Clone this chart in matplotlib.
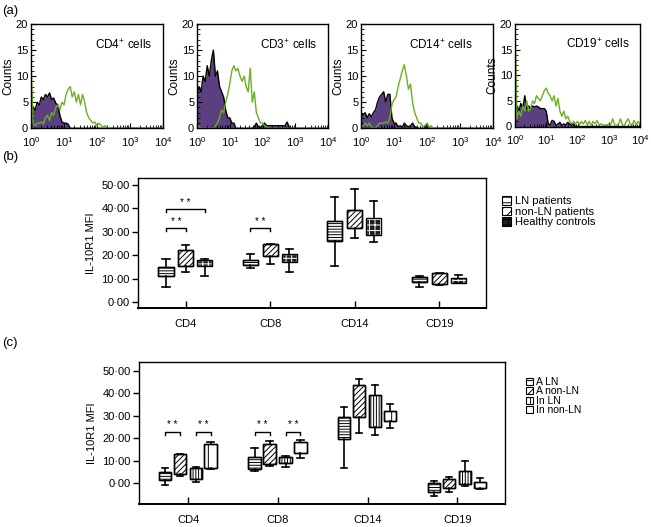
import numpy as np
import matplotlib.pyplot as plt
from matplotlib.patches import Patch, PathPatch
from matplotlib.ticker import MultipleLocator, LogLocator, NullFormatter, FuncFormatter

plt.rcParams['font.family'] = ['Liberation Sans', 'DejaVu Sans']
plt.rcParams['mathtext.fontset'] = 'custom'
plt.rcParams['mathtext.rm'] = 'Liberation Sans'
plt.rcParams['mathtext.it'] = 'Liberation Sans:italic'
plt.rcParams['hatch.linewidth'] = 0.7

# ---------------- data ----------------
# flow histograms: counts per channel, 16 channels per decade from 10^0
hist_exp = np.arange(65) / 16
hist_titles = ["CD4$^{+}$ cells", "CD3$^{+}$ cells", "CD14$^{+}$ cells", "CD19$^{+}$ cells"]
cd4_isotype = [5.0, 4.0, 3.5, 5.0, 4.5, 6.0, 5.5, 6.5, 6.0, 6.8, 5.5, 5.8, 4.8, 4.5, 2.5, 1.2,
               1.0, 1.0, 0.8, 0.0]
cd4_il10r1 = [13.0, 1.0, 0.5, 1.0, 1.0, 1.2, 0.8, 2.0, 2.5, 1.5, 3.0, 2.5, 4.0, 4.5, 3.5, 5.0,
              4.5, 6.5, 7.5, 8.0, 6.0, 7.0, 5.0, 6.5, 4.5, 6.5, 5.0, 3.0, 2.0, 1.5, 1.0, 1.2,
              0.5, 1.0, 0.5, 0.3, 0.5, 0.0]
cd3_isotype = [6.5, 8.0, 7.0, 10.0, 9.0, 12.0, 10.0, 13.0, 15.0, 10.0, 11.0, 8.0, 7.0, 6.0, 3.5, 2.0,
               2.0, 1.0, 1.0, 0.0, 0.0, 0.0, 0.0, 0.0, 0.0, 0.0, 0.0, 0.0, 0.3, 1.0, 0.3, 0.2,
               0.5, 1.0, 0.5, 0.5, 0.5, 0.5, 0.5, 0.5, 0.5, 0.5, 0.5, 0.5, 1.2, 0.3, 0.0]
cd3_il10r1 = [0.5, 0.3, 0.0, 0.0, 0.0, 0.0, 0.0, 0.0, 0.0, 0.5, 1.0, 2.0, 3.5, 3.0, 5.0, 6.5,
              8.5, 11.0, 12.0, 11.0, 11.5, 10.0, 9.0, 10.0, 8.0, 7.0, 11.5, 5.0, 7.0, 3.0, 2.0, 1.0,
              1.0, 0.5, 0.3, 0.0]
cd14_isotype = [3.0, 2.5, 3.0, 2.0, 2.8, 2.2, 3.0, 3.5, 5.0, 6.0, 6.5, 7.0, 5.0, 6.5, 6.5, 2.0,
                1.0, 1.0, 0.3, 0.5, 0.2, 1.0, 0.5, 0.3, 0.5, 1.0, 0.3, 0.2, 0.0, 0.0, 0.0, 0.0,
                0.8, 0.0]
cd14_il10r1 = [0.0, 0.5, 1.0, 0.5, 1.0, 0.3, 0.0, 0.0, 0.5, 1.0, 1.0, 1.0, 1.2, 1.0, 2.0, 4.5,
               5.5, 6.0, 8.0, 9.5, 11.0, 12.2, 10.0, 7.5, 8.5, 5.0, 3.0, 2.0, 1.0, 1.0, 0.3, 0.5,
               1.0, 0.2, 0.5, 0.0]
cd19_isotype = [3.0, 4.0, 3.0, 4.5, 3.5, 6.0, 3.5, 4.0, 3.5, 4.0, 3.8, 4.0, 3.8, 3.5, 3.5, 3.5,
                3.0, 0.5, 0.3, 1.2, 1.0, 0.2, 0.5, 0.8, 0.2, 0.5, 0.3, 0.8, 0.5, 0.3, 0.5, 0.0]
cd19_il10r1 = [20.0, 1.5, 3.0, 2.0, 4.0, 3.0, 5.0, 3.0, 3.5, 5.0, 4.5, 6.0, 5.5, 5.0, 6.0, 7.0,
               7.5, 6.5, 6.0, 5.0, 6.0, 4.0, 5.5, 3.0, 2.0, 3.0, 1.5, 2.0, 1.0, 0.5, 1.0, 0.5,
               1.0, 0.3, 1.0, 0.5, 1.2, 0.3, 1.0, 0.2, 1.0, 0.5, 1.2, 0.3, 0.5, 0.2, 0.3, 0.2,
               0.5, 0.3, 1.5, 0.3, 0.2, 0.5, 1.5, 0.3, 0.2, 1.0, 1.5, 0.5, 0.3, 1.2, 0.3, 1.0, 0.5]
isotype_counts = [cd4_isotype, cd3_isotype, cd14_isotype, cd19_isotype]
il10r1_counts = [cd4_il10r1, cd3_il10r1, cd14_il10r1, cd19_il10r1]

cells = ["CD4", "CD8", "CD14", "CD19"]

# panel (b): LN patients, non-LN patients, healthy controls (rows) x cells (cols)
b_groups = ["LN patients", "non-LN patients", "Healthy controls"]
b_whislo = [[6.4, 14.4, 15.4, 6.5], [12.8, 16.2, 27.2, 7.2], [11.2, 12.8, 25.5, 8.0]]
b_q1 = [[11.1, 15.7, 26.1, 8.7], [15.3, 19.8, 31.5, 7.6], [15.3, 17.0, 28.6, 8.0]]
b_med = [[13.0, 16.8, 30.0, 9.8], [18.5, 22.0, 35.5, 10.0], [16.5, 18.7, 32.0, 9.0]]
b_q3 = [[14.8, 17.8, 34.6, 10.8], [22.1, 24.8, 39.2, 12.3], [17.8, 20.4, 35.8, 10.3]]
b_whishi = [[18.2, 20.6, 44.7, 11.1], [24.4, 24.9, 48.4, 12.5], [18.2, 22.5, 43.0, 11.5]]
# significance: (cell, group a, group b, bracket height)
b_sig = [(0, 0, 1, 31.5), (0, 0, 2, 39.7), (1, 0, 1, 31.5)]

# panel (c): active / inactive LN and non-LN
c_groups = ["A LN", "A non-LN", "In LN", "In non-LN"]
c_whislo = [[-0.9, 5.3, 6.8, -5.8], [3.1, 7.6, 22.1, -3.9], [0.6, 7.0, 21.4, -1.3], [6.1, 11.0, 24.3, -2.8]]
c_q1 = [[1.3, 6.2, 19.4, -4.2], [4.2, 8.3, 29.5, -2.4], [1.6, 8.8, 25.1, -0.4], [6.8, 13.2, 27.6, -2.4]]
c_med = [[3.1, 8.5, 24.0, -2.0], [8.0, 12.5, 36.0, 0.0], [4.0, 10.0, 33.0, 2.0], [12.0, 15.5, 30.0, -1.0]]
c_q3 = [[4.8, 11.4, 29.2, 0.15], [12.9, 17.2, 43.5, 1.8], [6.5, 11.7, 39.2, 5.3], [17.5, 18.3, 32.1, 0.6]]
c_whishi = [[6.5, 15.4, 34.0, 0.9], [12.9, 18.7, 46.2, 2.8], [7.0, 12.2, 43.5, 9.8], [18.3, 19.0, 35.0, 2.1]]
c_sig = [(0, 0, 1, 22.8), (0, 2, 3, 22.8), (1, 0, 1, 22.8), (1, 2, 3, 22.8)]

# ---------------- layout ----------------
W, H = 651, 527
fig = plt.figure(figsize=(W / 100, H / 100), dpi=100)


def px_rect(l, t, r, b):
    return [l / W, 1 - b / H, (r - l) / W, (b - t) / H]


PURPLE = "#5b3f80"
GREEN = "#6ab023"

hist_rects = [(31, 24, 163, 128.3), (197, 24, 328, 128.3), (361, 24, 493, 128.3), (515, 24, 640, 126.5)]
title_x = [0.92, 0.92, 0.85, 0.92]
x_hist = 10 ** hist_exp
for i in range(4):
    ax = fig.add_axes(px_rect(*hist_rects[i]))
    iso = np.pad(isotype_counts[i], (0, len(x_hist) - len(isotype_counts[i])))
    il = np.pad(il10r1_counts[i], (0, len(x_hist) - len(il10r1_counts[i])))
    ax.fill_between(x_hist, iso, color=PURPLE, linewidth=0)
    ax.plot(x_hist, iso, color="black", linewidth=1.0)
    ax.plot(x_hist, il, color=GREEN, linewidth=1.0)
    ax.set_xscale("log")
    ax.set_xlim(1, 1e4)
    ax.set_ylim(0, 20)
    ax.yaxis.set_major_locator(MultipleLocator(5))
    ax.yaxis.set_minor_locator(MultipleLocator(1))
    ax.xaxis.set_major_locator(LogLocator(base=10, numticks=10))
    ax.xaxis.set_minor_locator(LogLocator(base=10, subs=np.arange(2, 10), numticks=10))
    ax.xaxis.set_minor_formatter(NullFormatter())
    ax.tick_params(which="both", direction="in", labelsize=8, top=False, right=False)
    ax.tick_params(which="major", length=3.5, width=0.8)
    ax.tick_params(which="minor", length=2, width=0.6)
    ax.tick_params(axis="x", pad=5)
    ax.tick_params(axis="y", pad=2)
    ax.set_ylabel("Counts", fontsize=8.5, labelpad=1)
    ax.text(title_x[i], 0.80, hist_titles[i], transform=ax.transAxes, ha="right", va="center",
            fontsize=8.5)
    for s in ax.spines.values():
        s.set_linewidth(1.0)

ytick_fmt = FuncFormatter(lambda v, p: f"{v:.0f}\u00b700")

b_styles = [dict(face="white", edge="black", hatch="------"),
            dict(face="white", edge="black", hatch="//////"),
            dict(face="#1e1e1e", edge="white", hatch="+++")]
c_styles = [dict(face="white", edge="black", hatch="------"),
            dict(face="white", edge="black", hatch="//////"),
            dict(face="white", edge="black", hatch="||||||"),
            dict(face="white", edge="black", hatch="|")]


def box_panel(ax, whislo, q1, med, q3, whishi, offsets, width, capw, styles):
    for g in range(len(offsets)):
        stats = [dict(whislo=whislo[g][k], q1=q1[g][k], med=med[g][k], q3=q3[g][k],
                      whishi=whishi[g][k]) for k in range(len(cells))]
        pos = [k + offsets[g] for k in range(len(cells))]
        st = styles[g]
        art = ax.bxp(stats, positions=pos, widths=width, capwidths=capw, patch_artist=True,
                     showfliers=False, manage_ticks=False,
                     boxprops=dict(facecolor=st["face"], edgecolor=st["edge"], hatch=st["hatch"],
                                   linewidth=1.0),
                     whiskerprops=dict(color="black", linewidth=1.2),
                     capprops=dict(color="black", linewidth=1.2),
                     medianprops=dict(linewidth=0))
        for b in art["boxes"]:
            ax.add_patch(PathPatch(b.get_path(), facecolor="none", edgecolor="black",
                                   linewidth=1.0, zorder=b.get_zorder() + 0.1))


def sig_brackets(ax, sig, offsets, drop):
    for k, a, b, h in sig:
        xa, xb = k + offsets[a], k + offsets[b]
        ax.plot([xa, xa, xb, xb], [h - drop, h, h, h - drop], color="black", linewidth=1.0)
        ax.text((xa + xb) / 2, h + 0.6, "* *", ha="center", va="bottom", fontsize=7)


def style_axes(ax, xlim, ylim):
    ax.set_xlim(*xlim)
    ax.set_ylim(*ylim)
    ax.set_xticks(range(len(cells)))
    ax.set_xticklabels(cells)
    ax.set_yticks(range(0, 51, 10))
    ax.yaxis.set_major_formatter(ytick_fmt)
    ax.tick_params(axis="x", direction="in", length=5, width=1.0, pad=8, labelsize=8)
    ax.tick_params(axis="y", direction="out", length=4, width=1.0, pad=2, labelsize=8)
    ax.set_ylabel("IL-10R1 MFI", fontsize=8, labelpad=4)
    for s in ax.spines.values():
        s.set_linewidth(1.0)
    ax.spines["bottom"].set_linewidth(1.4)


# panel (b)
ax_b = fig.add_axes(px_rect(138, 178, 486, 308))
b_off = [-0.236, 0.0, 0.225]
box_panel(ax_b, b_whislo, b_q1, b_med, b_q3, b_whishi, b_off, 0.18, 0.085, b_styles)
sig_brackets(ax_b, b_sig, b_off, 1.3)
style_axes(ax_b, (-0.567, 3.555), (-2.6, 53.0))
b_handles = [Patch(facecolor=s["face"], edgecolor="black", hatch=s["hatch"][:3], linewidth=0.8)
             for s in b_styles]
ax_b.legend(b_handles, b_groups, loc="upper left", bbox_to_anchor=(502 / W, 1 - 196 / H),
            bbox_transform=fig.transFigure, frameon=False, fontsize=8, handlelength=0.8,
            handleheight=0.8, handletextpad=0.4, labelspacing=0.05, borderpad=0, borderaxespad=0)

# panel (c)
ax_c = fig.add_axes(px_rect(139, 362, 505, 504))
c_off = [-0.26, -0.093, 0.085, 0.25]
box_panel(ax_c, c_whislo, c_q1, c_med, c_q3, c_whishi, c_off, 0.137, 0.07, c_styles)
sig_brackets(ax_c, c_sig, c_off, 1.2)
style_axes(ax_c, (-0.548, 3.53), (-9.35, 53.9))
c_handles = [Patch(facecolor=s["face"], edgecolor="black", hatch=s["hatch"][:3], linewidth=0.8)
             for s in c_styles]
ax_c.legend(c_handles, c_groups, loc="upper left", bbox_to_anchor=(526 / W, 1 - 377 / H),
            bbox_transform=fig.transFigure, frameon=False, fontsize=7.5, handlelength=0.7,
            handleheight=0.7, handletextpad=0.25, labelspacing=-0.05, borderpad=0, borderaxespad=0)

fig.text(2 / W, 1 - 11 / H, "(a)", fontsize=9.5, va="center", ha="left")
fig.text(2 / W, 1 - 157 / H, "(b)", fontsize=9.5, va="center", ha="left")
fig.text(2 / W, 1 - 343 / H, "(c)", fontsize=9.5, va="center", ha="left")

fig.savefig("out.png", dpi=100)
